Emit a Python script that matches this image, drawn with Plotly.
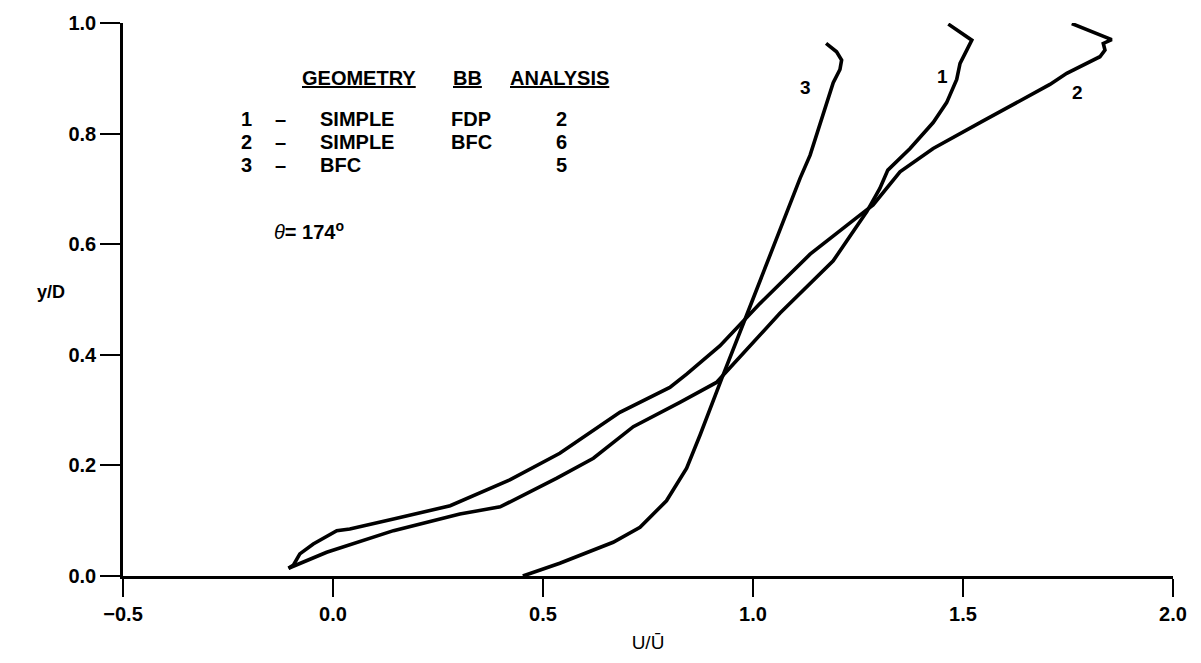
import plotly.graph_objects as go

# Velocity profiles U/Ubar versus y/D at theta = 174 deg
u_1 = [-0.106, -0.015, 0.144, 0.302, 0.398, 0.533, 0.620, 0.715, 0.826, 0.913,
       1.064, 1.191, 1.271, 1.302, 1.321, 1.374, 1.429, 1.461, 1.485, 1.493,
       1.509, 1.521, 1.465]
y_1 = [0.014, 0.043, 0.082, 0.112, 0.125, 0.177, 0.213, 0.270, 0.314, 0.350,
       0.475, 0.570, 0.659, 0.701, 0.734, 0.773, 0.820, 0.856, 0.898, 0.927,
       0.951, 0.969, 0.998]

u_2 = [-0.106, -0.094, -0.079, -0.047, 0.009, 0.040, 0.144, 0.279, 0.421, 0.540,
       0.683, 0.802, 0.842, 0.921, 1.017, 1.136, 1.247, 1.286, 1.350, 1.429,
       1.548, 1.707, 1.747, 1.826, 1.838, 1.834, 1.854, 1.759]
y_2 = [0.014, 0.020, 0.040, 0.058, 0.082, 0.085, 0.103, 0.127, 0.174, 0.222,
       0.296, 0.341, 0.365, 0.416, 0.493, 0.582, 0.648, 0.671, 0.731, 0.773,
       0.823, 0.889, 0.909, 0.939, 0.951, 0.963, 0.970, 0.999]

u_3 = [0.452, 0.540, 0.667, 0.731, 0.794, 0.842, 0.874, 0.905, 0.925, 0.985,
       1.112, 1.136, 1.191, 1.207, 1.211, 1.199, 1.174]
y_3 = [0.0, 0.023, 0.061, 0.088, 0.136, 0.195, 0.255, 0.314, 0.356, 0.472,
       0.719, 0.761, 0.892, 0.916, 0.933, 0.948, 0.963]

x_ticks = [-0.5, 0.0, 0.5, 1.0, 1.5, 2.0]
x_tick_text = ["\u22120.5", "0.0", "0.5", "1.0", "1.5", "2.0"]
y_ticks = [0.0, 0.2, 0.4, 0.6, 0.8, 1.0]
y_tick_text = ["0.0", "0.2", "0.4", "0.6", "0.8", "1.0"]

curve_labels = ["1", "2", "3"]
curve_label_pos = [(1.452, 0.904), (1.772, 0.874), (1.124, 0.883)]

table_rows = [("1", "SIMPLE", "FDP", "2"),
              ("2", "SIMPLE", "BFC", "6"),
              ("3", "BFC", "", "5")]

FONT = "Liberation Sans"
INK = "black"

fig = go.Figure()
for u, y in [(u_1, y_1), (u_2, y_2), (u_3, y_3)]:
    fig.add_trace(go.Scatter(x=u, y=y, mode="lines",
                             line=dict(color=INK, width=3.6),
                             showlegend=False, hoverinfo="skip"))

ann = []
for lab, (ax, ay) in zip(curve_labels, curve_label_pos):
    ann.append(dict(x=ax, y=ay, text=lab, showarrow=False,
                    font=dict(family=FONT, size=19, color=INK, weight="bold")))

# table header
hdr_y = 0.9
for txt, hx, anchor in [("GEOMETRY", 0.062, "center"), ("BB", 0.321, "center"),
                        ("ANALYSIS", 0.417, "left")]:
    ann.append(dict(x=hx, y=hdr_y, text="<u>" + txt + "</u>", showarrow=False,
                    xanchor=anchor,
                    font=dict(family=FONT, size=20, color=INK, weight="bold")))

row_y = [0.827, 0.784, 0.743]
for (num, geo, bb, an), ry in zip(table_rows, row_y):
    cells = [(num, -0.207, "center"), ("\u2013", -0.126, "center"),
             (geo, -0.036, "left"), (bb, 0.329, "center"), (an, 0.545, "center")]
    for txt, cx, anchor in cells:
        if not txt:
            continue
        ann.append(dict(x=cx, y=ry, text=txt, showarrow=False, xanchor=anchor,
                        font=dict(family=FONT, size=20, color=INK, weight="bold")))

ann.append(dict(x=-0.145, y=0.624, xanchor="left", showarrow=False,
                text="<i>\u03b8</i><b>= 174</b><sup><b>o</b></sup>",
                font=dict(family=FONT, size=20, color=INK)))

# y-axis title sits level with the middle of the 0.4-0.6 band, left of the ticks
ann.append(dict(x=-0.084, y=0.514, xref="paper", yref="paper", showarrow=False,
                text="y/D",
                font=dict(family=FONT, size=18, color=INK, weight="bold")))

fig.update_layout(
    width=1201, height=663,
    margin=dict(l=123, r=28, t=16, b=87),
    paper_bgcolor="white", plot_bgcolor="white",
    font=dict(family=FONT, color=INK),
    annotations=ann,
    xaxis=dict(range=[-0.5, 2.0], tickvals=x_ticks, ticktext=x_tick_text,
               showline=True, linecolor=INK, linewidth=2.5, mirror=False,
               ticks="outside", ticklen=18, tickwidth=2, tickcolor=INK,
               showgrid=False, zeroline=False,
               tickfont=dict(family=FONT, size=20, color=INK, weight="bold"),
               title=dict(text="U/\u016a", standoff=12,
                          font=dict(family=FONT, size=19, color=INK))),
    yaxis=dict(range=[0.0, 1.0], tickvals=y_ticks, ticktext=y_tick_text,
               showline=True, linecolor=INK, linewidth=2.5, mirror=False,
               ticks="outside", ticklen=20, tickwidth=2, tickcolor=INK,
               showgrid=False, zeroline=False,
               tickfont=dict(family=FONT, size=20, color=INK, weight="bold")),
)

fig.write_html("out.html")
